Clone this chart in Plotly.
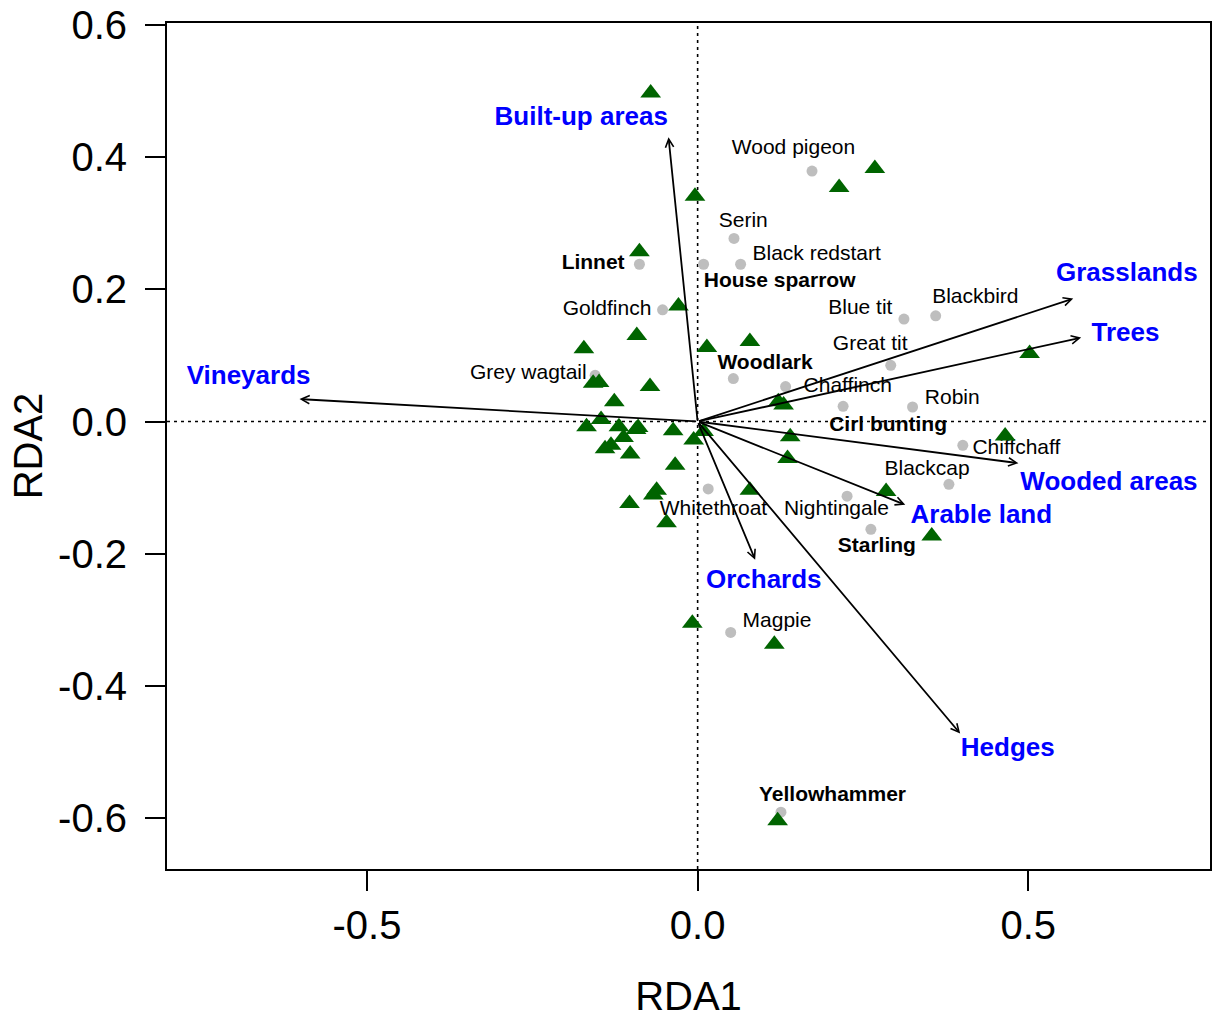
import plotly.graph_objects as go

# ---------------- data ----------------
species = ["Wood pigeon", "Serin", "Black redstart", "House sparrow", "Linnet",
           "Goldfinch", "Blue tit", "Blackbird", "Great tit", "Woodlark",
           "Chaffinch", "Cirl bunting", "Robin", "Chiffchaff", "Blackcap",
           "Nightingale", "Starling", "Whitethroat", "Grey wagtail", "Magpie",
           "Yellowhammer"]
species_x = [0.173, 0.055, 0.065, 0.009, -0.088, -0.053, 0.312, 0.360, 0.292, 0.054,
             0.133, 0.220, 0.325, 0.401, 0.380, 0.226, 0.262, 0.016, -0.155, 0.050,
             0.126]
species_y = [0.379, 0.277, 0.238, 0.238, 0.238, 0.169, 0.155, 0.160, 0.085, 0.065,
             0.053, 0.023, 0.022, -0.036, -0.095, -0.113, -0.163, -0.102, 0.070, -0.319,
             -0.591]
species_label_x = [0.145, 0.069, 0.180, 0.124, -0.158, -0.137, 0.246, 0.420, 0.261, 0.102,
                   0.227, 0.288, 0.385, 0.482, 0.347, 0.210, 0.271, 0.024, -0.256, 0.120,
                   0.204]
species_label_y = [0.412, 0.303, 0.253, 0.211, 0.238, 0.169, 0.170, 0.187, 0.116, 0.088,
                   0.053, -0.007, 0.034, -0.041, -0.073, -0.134, -0.190, -0.134, 0.073, -0.303,
                   -0.566]
species_bold = ["House sparrow", "Linnet", "Woodlark", "Cirl bunting", "Starling",
                "Yellowhammer"]

site_x = [-0.071, -0.004, 0.268, 0.214, -0.088, -0.029, -0.092, -0.172, 0.014, 0.079,
          -0.158, -0.149, -0.072, -0.126, -0.146, -0.168, -0.119, -0.090, -0.093, -0.112,
          -0.131, -0.140, -0.102, -0.037, -0.006, 0.009, -0.034, -0.062, -0.067, -0.103,
          -0.047, 0.079, 0.122, 0.130, 0.140, 0.136, 0.285, 0.502, 0.465, 0.354,
          -0.008, 0.116, 0.121]
site_y = [0.497, 0.341, 0.383, 0.354, 0.257, 0.175, 0.130, 0.110, 0.112, 0.121,
          0.058, 0.059, 0.053, 0.030, 0.003, -0.008, -0.008, -0.009, -0.012, -0.024,
          -0.036, -0.041, -0.049, -0.014, -0.028, -0.015, -0.066, -0.104, -0.111, -0.124,
          -0.153, -0.104, 0.030, 0.025, -0.023, -0.056, -0.106, 0.103, -0.022, -0.173,
          -0.305, -0.337, -0.604]

env = ["Built-up areas", "Vineyards", "Grasslands", "Trees", "Wooded areas",
       "Arable land", "Orchards", "Hedges"]
env_x = [-0.044, -0.602, 0.568, 0.580, 0.485, 0.314, 0.087, 0.397]
env_y = [0.430, 0.034, 0.186, 0.127, -0.063, -0.126, -0.209, -0.472]
env_label_x = [-0.176, -0.679, 0.649, 0.647, 0.622, 0.429, 0.100, 0.469]
env_label_y = [0.458, 0.066, 0.222, 0.131, -0.093, -0.144, -0.242, -0.496]

x_ticks = [-0.5, 0.0, 0.5]
x_ticktext = ["-0.5", "0.0", "0.5"]
y_ticks = [-0.6, -0.4, -0.2, 0.0, 0.2, 0.4, 0.6]
y_ticktext = ["-0.6", "-0.4", "-0.2", "0.0", "0.2", "0.4", "0.6"]
x_range = [-0.8024, 0.7748]
y_range = [-0.677, 0.603]

FONT = "Liberation Sans, Arial, Helvetica, sans-serif"

fig = go.Figure()

# species points
fig.add_trace(go.Scatter(
    x=species_x, y=species_y, mode="markers",
    marker=dict(symbol="circle", size=11, color="#BEBEBE", line=dict(width=0)),
    hoverinfo="skip", showlegend=False))

# species labels (regular / bold)
for is_bold in (False, True):
    idx = [i for i, s in enumerate(species) if (s in species_bold) == is_bold]
    fig.add_trace(go.Scatter(
        x=[species_label_x[i] for i in idx],
        y=[species_label_y[i] for i in idx],
        text=[species[i] for i in idx],
        mode="text", textposition="middle center",
        textfont=dict(family=FONT, size=21, color="black",
                      weight="bold" if is_bold else "normal"),
        hoverinfo="skip", showlegend=False))

# sites
fig.add_trace(go.Scatter(
    x=site_x, y=site_y, mode="markers",
    marker=dict(symbol="triangle-up", size=18, color="#006400", line=dict(width=0)),
    hoverinfo="skip", showlegend=False))

# environmental labels
fig.add_trace(go.Scatter(
    x=env_label_x, y=env_label_y, text=env, mode="text",
    textposition="middle center",
    textfont=dict(family=FONT, size=26, color="#0000FF", weight="bold"),
    hoverinfo="skip", showlegend=False))

# environmental arrows from origin
for ex, ey in zip(env_x, env_y):
    fig.add_annotation(
        x=ex, y=ey, ax=0, ay=0, xref="x", yref="y", axref="x", ayref="y",
        text="", showarrow=True, arrowhead=5, arrowsize=0.9, arrowwidth=1.8,
        arrowcolor="black", standoff=0, startstandoff=0)

# dotted reference lines
fig.add_shape(type="line", xref="x", yref="paper", x0=0, x1=0, y0=0, y1=1,
              line=dict(color="black", width=1.6, dash="3px,4px"), layer="below")
fig.add_shape(type="line", xref="paper", yref="y", x0=0, x1=1, y0=0, y1=0,
              line=dict(color="black", width=1.6, dash="3px,4px"), layer="below")

axis_common = dict(
    showgrid=False, zeroline=False, showline=True, linecolor="black", linewidth=2,
    mirror=True, ticks="outside", ticklen=20, tickwidth=2, tickcolor="black",
    tickfont=dict(family=FONT, size=40, color="black"), automargin=False,
)

fig.update_layout(
    width=1217, height=1018,
    margin=dict(l=167, r=7, t=23, b=149),
    paper_bgcolor="white", plot_bgcolor="white",
    font=dict(family=FONT, color="black"),
    xaxis=dict(range=x_range, tickvals=x_ticks, ticktext=x_ticktext,
               title=dict(text="RDA1", font=dict(family=FONT, size=40), standoff=40),
               **axis_common),
    yaxis=dict(range=y_range, tickvals=y_ticks, ticktext=y_ticktext,
               ticklabelstandoff=10,
               title=dict(text="RDA2", font=dict(family=FONT, size=40), standoff=3),
               **axis_common),
)

fig.write_html("out.html")
